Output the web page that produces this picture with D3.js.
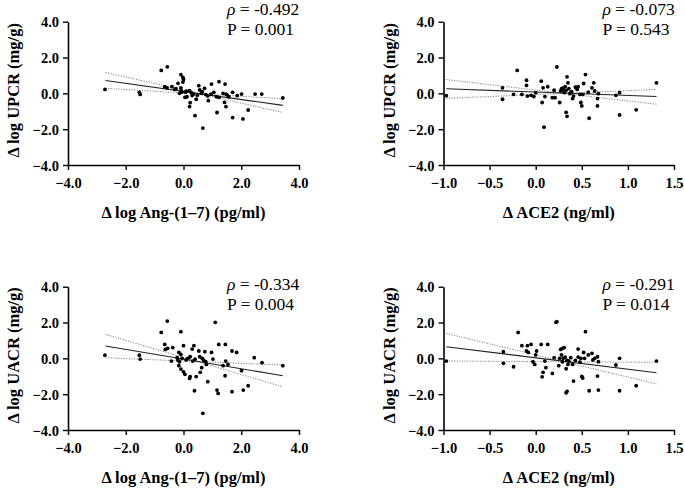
<!DOCTYPE html>
<html><head><meta charset="utf-8">
<script src="https://cdn.jsdelivr.net/npm/d3@7"></script>
<style>body{margin:0;background:#fff;}</style></head>
<body><svg id="c" width="685" height="490"></svg>
<script>
// ---------- data ----------
const angTicks = [-4, -2, 0, 2, 4];
const aceTicks = [-1.0, -0.5, 0.0, 0.5, 1.0, 1.5];
const yTicks = [-4, -2, 0, 2, 4];

const upcrAngX = [-2.72,-1.53,-1.50,-0.77,-0.56,-0.65,-0.57,-0.40,-0.26,-0.19,-0.09,-0.02,0,-0.02,-0.09,-0.14,-0.05,0.07,0.12,0.21,0.27,0.35,0.05,0.23,0.21,0.40,0.44,0.53,0.62,0.56,0.73,0.67,0.77,0.84,0.86,0.97,1.05,1.14,1.16,1.23,1.23,1.37,1.42,1.44,1.51,1.47,1.57,1.70,1.86,2.01,2.48,2.71,3.44,1.47,1.70,2.06,2.24,0.10,0.30,-0.30,0.95,0.48,0.65,-0.08];
const upcrAngY = [0.22,0.06,-0.06,1.28,1.48,0.37,0.31,0.37,0.26,0.56,1.04,0.89,0.78,0.63,0.30,0,0.07,0.07,-0.19,0.15,0.04,-0.04,-0.22,-0.52,-0.74,-1.24,-0.33,0.43,0,0.19,0.28,-1.94,-0.07,-0.15,-0.41,0.52,0.06,-0.19,-1.07,0.65,-0.22,0,-0.5,0.52,-0.09,-0.04,-0.19,0.06,-0.13,-0.04,-0.04,-0.04,-0.26,-0.74,-1.35,-1.43,-0.93,0.12,-0.12,0.22,-0.05,-0.10,0.10,0.15];

const upcrAceX = [-0.97,-0.36,-0.36,-0.24,-0.20,-0.15,-0.10,-0.10,-0.09,-0.05,-0.02,0,0.06,0.07,0.08,0.09,0.10,0.13,0.18,0.20,0.21,0.23,0.26,0.27,0.28,0.30,0.31,0.32,0.33,0.34,0.34,0.35,0.36,0.38,0.40,0.41,0.44,0.46,0.48,0.49,0.50,0.51,0.52,0.54,0.57,0.58,0.61,0.63,0.64,0.67,0.67,0.68,0.87,0.91,0.91,1.09,1.31,0.29,0.39,0.43,0.45,0.33,0.37];
const upcrAceY = [-0.13,0.31,-0.33,-0.06,1.28,-0.06,0.73,0.44,-0.15,-0.11,-0.18,0.04,0.68,-0.51,0.31,-1.89,-0.18,0.37,-0.24,0.18,-0.24,1.47,-0.51,0.13,0.26,0.31,0.04,0.37,-1.06,0.92,-1.28,0.59,0.26,0.04,-0.29,-0.15,0.31,0.37,-0.06,-0.51,-0.70,-0.06,0.55,1.05,0.07,-1.39,0.31,0.59,0.13,-0.70,-0.29,-0.02,-0.11,0.04,-1.21,-0.92,0.59,0.20,0.09,0.35,0.22,0.17,-0.02];

const uacrAngX = [-2.72,-1.53,-1.50,-0.77,-0.56,-0.65,-0.63,-0.55,-0.37,-0.09,0,-0.16,-0.22,-0.42,-0.19,-0.14,-0.09,-0.05,-0.16,-0.09,0,0.05,0.21,0.23,0.09,0.15,0.23,0.32,0.30,0.36,0.44,0.38,0.53,0.56,0.65,0.63,0.58,0.74,0.77,0.79,0.84,0.97,1.02,1.10,1.22,1.16,1.20,1.37,1.45,1.46,1.54,1.44,1.68,1.68,1.84,2.01,2.07,2.24,2.45,2.72,3.44,0.67,0.40,0.70];
const uacrAngY = [0.18,0.18,-0.04,1.45,2.08,0.78,0.50,0.56,0.60,1.49,0.71,0.33,0.04,-0.15,-0.10,-0.19,0.22,0,-0.41,-0.60,-0.75,-0.89,-1.12,-1.02,-0.09,0,0.09,-0.15,0.52,0.71,-1.02,-1.81,0.41,0.09,0,-0.52,-0.78,0.37,-0.19,-0.34,-1.30,0.33,-0.04,2.01,0.78,-1.77,-1.96,-0.41,0.78,-0.15,-0.34,-0.97,0.41,-1.86,0.33,-0.69,-1.77,-1.53,0.04,-0.24,-0.41,-3.07,-0.05,-0.10];

const uacrAceX = [-0.97,-0.35,-0.35,-0.24,-0.19,-0.15,-0.09,-0.05,-0.10,-0.08,-0.03,-0.01,0.0,0.01,0.06,0.13,0.07,0.08,0.11,0.10,0.18,0.20,0.22,0.23,0.25,0.26,0.27,0.29,0.31,0.28,0.29,0.30,0.32,0.34,0.35,0.33,0.36,0.38,0.40,0.41,0.34,0.33,0.43,0.46,0.46,0.48,0.49,0.52,0.53,0.50,0.51,0.54,0.57,0.58,0.61,0.62,0.64,0.67,0.67,0.68,0.68,0.87,0.91,0.91,1.09,1.31];
const uacrAceY = [-0.15,0.37,-0.28,-0.47,1.45,0.71,0.71,0.78,0.41,0.33,-0.19,-0.34,0.19,0.41,0.78,0.78,-1.03,-0.78,-0.52,-0.15,-0.84,0.04,2.01,2.05,-0.41,0,0.50,0.56,0.60,0.19,-0.19,0,0.07,-0.11,-0.34,-0.58,-0.15,0.04,-0.34,-1.27,-1.84,-1.92,-0.11,0.07,0.52,-0.21,0,0.33,0,-1.01,-1.10,1.49,0.19,-1.81,0.28,-0.09,0,0.09,-0.99,-0.19,-1.77,-0.37,0,-1.81,-1.53,-0.15];

// fitted line and the two dotted bounds, read at the line ends
const fitAngX = [-2.70, 3.44];
const fitAceX = [-0.97, 1.31];
const fit1Mid = [0.72, -0.67], fit1Hi = [1.17, -1.07], fit1Lo = [0.28, -0.30];
const fit2Mid = [0.26, -0.18], fit2Hi = [0.77, -0.61], fit2Lo = [-0.28, 0.22];
const fit3Mid = [0.69, -0.97], fit3Hi = [1.34, -1.59], fit3Lo = [0.03, -0.37];
const fit4Mid = [0.65, -0.80], fit4Hi = [1.39, -1.43], fit4Lo = [-0.15, -0.22];

const rhoLabels = ["-0.492", "-0.073", "-0.334", "-0.291"];
const pLabels = ["0.001", "0.543", "0.004", "0.014"];
const xTitles = ["\u0394 log Ang-(1\u20137) (pg/ml)", "\u0394 ACE2 (ng/ml)", "\u0394 log Ang-(1\u20137) (pg/ml)", "\u0394 ACE2 (ng/ml)"];
const yTitles = ["\u0394 log UPCR (mg/g)", "\u0394 log UPCR (mg/g)", "\u0394 log UACR (mg/g)", "\u0394 log UACR (mg/g)"];

// ---------- layout ----------
const FONT = "'Liberation Serif','Times New Roman',serif";
const svg = d3.select("#c");
const panels = [
  {xs:upcrAngX, ys:upcrAngY, dom:[-4,4], ticks:angTicks, fx:fitAngX, mid:fit1Mid, hi:fit1Hi, lo:fit1Lo, x0:68, x1:299, top:21.7, bot:165, textY:15},
  {xs:upcrAceX, ys:upcrAceY, dom:[-1,1.5], ticks:aceTicks, fx:fitAceX, mid:fit2Mid, hi:fit2Hi, lo:fit2Lo, x0:443.5, x1:674, top:21.7, bot:165, textY:15},
  {xs:uacrAngX, ys:uacrAngY, dom:[-4,4], ticks:angTicks, fx:fitAngX, mid:fit3Mid, hi:fit3Hi, lo:fit3Lo, x0:68, x1:299, top:286.7, bot:430, textY:290},
  {xs:uacrAceX, ys:uacrAceY, dom:[-1,1.5], ticks:aceTicks, fx:fitAceX, mid:fit4Mid, hi:fit4Hi, lo:fit4Lo, x0:443.5, x1:674, top:286.7, bot:430, textY:290}
];

panels.forEach((p, i) => {
  const x = d3.scaleLinear().domain(p.dom).range([p.x0, p.x1]);
  const y = d3.scaleLinear().domain([-4, 4]).range([p.bot, p.top]);
  const g = svg.append("g");

  const xAx = g.append("g").attr("transform", `translate(0,${p.bot})`)
    .call(d3.axisBottom(x).tickValues(p.ticks).tickFormat(d3.format(".1f")).tickSize(5).tickSizeOuter(0));
  const yAx = g.append("g").attr("transform", `translate(${p.x0},0)`)
    .call(d3.axisLeft(y).tickValues(yTicks).tickFormat(d3.format(".1f")).tickSize(5).tickSizeOuter(0));
  [xAx, yAx].forEach(a => {
    a.attr("font-family", null).style("font-family", FONT);
    a.select(".domain").attr("stroke", "#000").attr("stroke-width", 1.6);
    a.selectAll(".tick line").attr("stroke", "#000").attr("stroke-width", 1.4);
    a.selectAll(".tick text").attr("fill", "#000").style("font-size", "14.5px").style("font-weight", "bold")
      .style("font-family", FONT);
  });
  xAx.selectAll(".tick text").attr("dy", "1.05em");
  yAx.selectAll(".tick text").attr("x", -9).attr("dy", "0.35em");

  // fit lines
  const mk = (ys) => [[p.fx[0], ys[0]], [p.fx[1], ys[1]]];
  const line = d3.line().x(d => x(d[0])).y(d => y(d[1]));
  [p.hi, p.lo].forEach(b => g.append("path").attr("d", line(mk(b))).attr("fill", "none")
     .attr("stroke", "#808080").attr("stroke-width", 1).attr("stroke-dasharray", "1.2,1.4"));
  g.append("path").attr("d", line(mk(p.mid))).attr("fill", "none").attr("stroke", "#222").attr("stroke-width", 1.1);

  // points
  g.selectAll("circle").data(d3.range(p.xs.length)).join("circle")
    .attr("cx", k => x(p.xs[k])).attr("cy", k => y(p.ys[k])).attr("r", 1.9).attr("fill", "#000");

  // titles
  g.append("text").attr("x", (p.x0 + p.x1) / 2).attr("y", p.bot + 53).attr("text-anchor", "middle")
    .style("font-family", FONT).style("font-size", "16.5px").style("font-weight", "bold").text(xTitles[i]);
  g.append("text").attr("transform", `translate(${p.x0 - 49},${(p.top + p.bot) / 2 - 3}) rotate(-90)`)
    .attr("text-anchor", "middle").style("font-family", FONT).style("font-size", "16.5px").style("font-weight", "bold").text(yTitles[i]);

  // stats
  const tx = p.x0 + 159;
  const t1 = g.append("text").attr("x", tx).attr("y", p.textY).style("font-family", FONT).style("font-size", "17.5px");
  t1.append("tspan").style("font-style", "italic").text("\u03C1");
  t1.append("tspan").text(" = " + rhoLabels[i]);
  g.append("text").attr("x", tx).attr("y", p.textY + 20).style("font-family", FONT).style("font-size", "17.5px").text("P = " + pLabels[i]);
});
</script></body></html>
